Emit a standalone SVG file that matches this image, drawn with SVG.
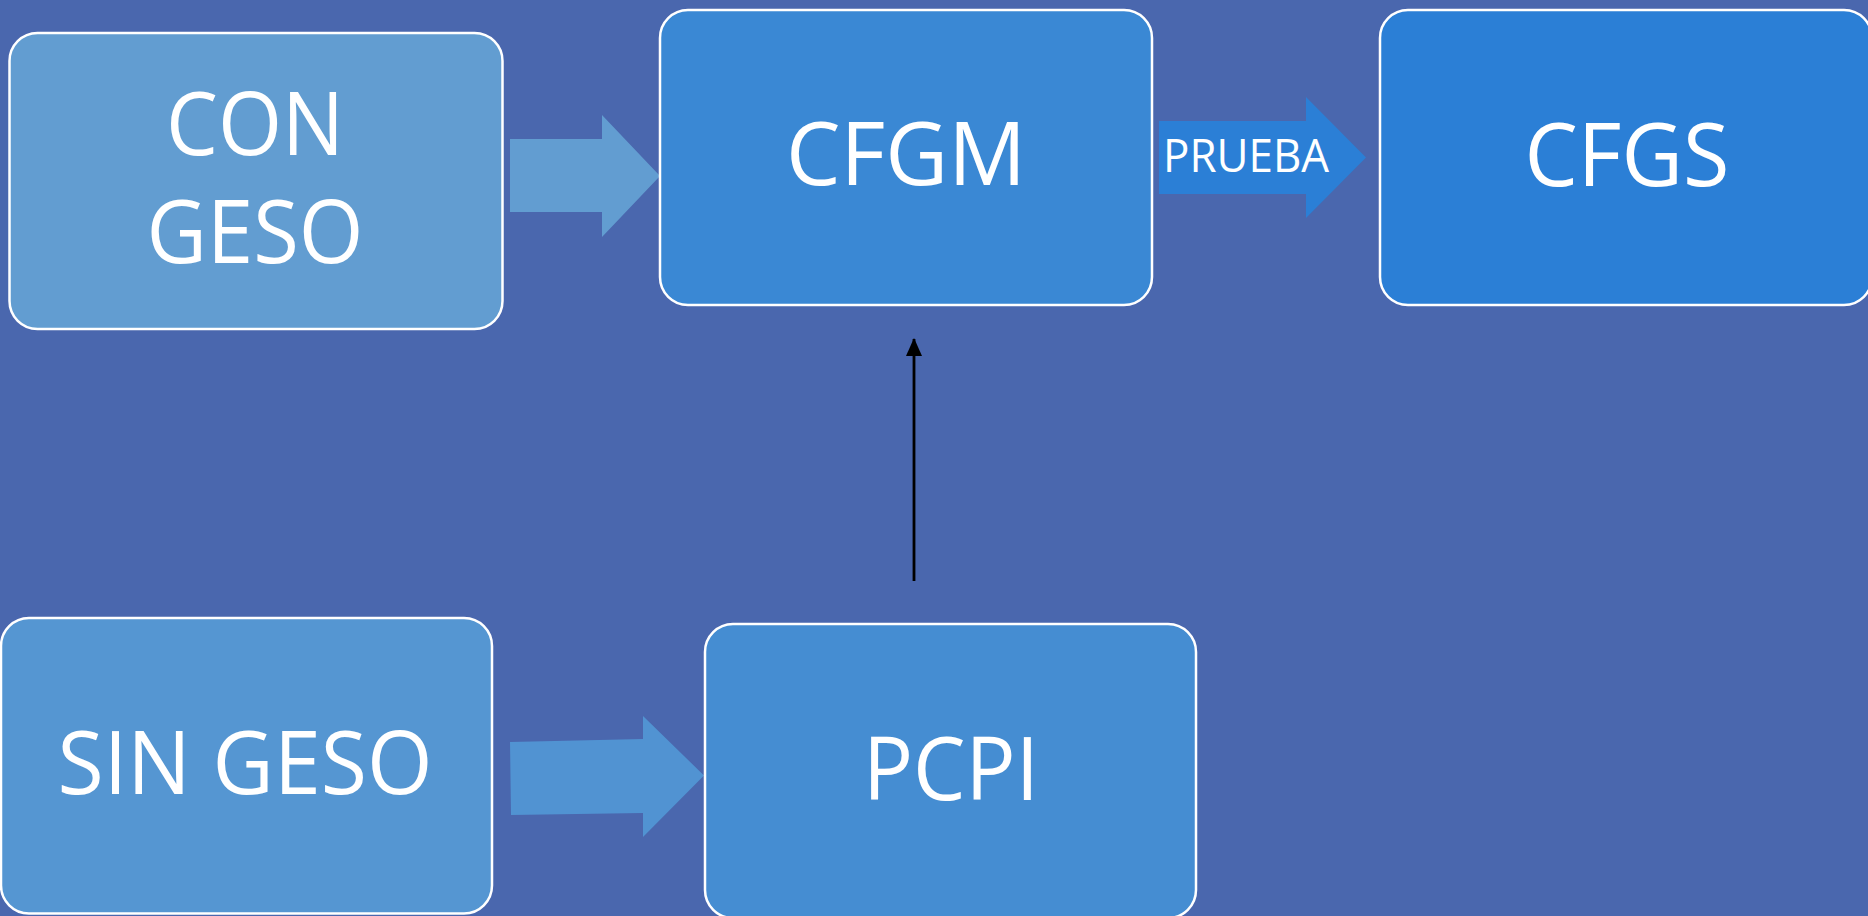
<svg xmlns="http://www.w3.org/2000/svg" width="1868" height="916" viewBox="0 0 1868 916">
<defs>
<style>
.box{stroke:#ffffff;stroke-width:2.5}
.lbl{font-family:"Open Sans","Noto Sans","Liberation Sans",sans-serif;fill:#ffffff;font-size:87px;text-anchor:middle}
.small{font-size:45px}
</style>
<marker id="ah" markerUnits="userSpaceOnUse" markerWidth="18" markerHeight="18" viewBox="0 0 18 18" refX="17" refY="9" orient="auto">
<path d="M0,1 L18,9 L0,17 Z" fill="#000000"/>
</marker>
</defs>
<rect x="0" y="0" width="1868" height="916" fill="#4A67AE"/>
<g id="connectors">
<polygon id="arrow-con-cfgm" points="510,139 602,139 602,115 660,176 602,237 602,212 510,212" fill="#629DD1"/>
<polygon id="arrow-prueba" points="1159,121 1306,121 1306,97 1366,157.5 1306,218 1306,194 1159,194" fill="#2B7FD6"/>
<polygon id="arrow-sin-pcpi" points="510,742 643,739 643,716 704,775.5 643,837 643,813 511,815" fill="#5193D2"/>
<line id="arrow-pcpi-cfgm" x1="914" y1="581" x2="914" y2="339" stroke="#000000" stroke-width="2.8" marker-end="url(#ah)"/>
<text class="lbl small" x="1246" y="172" textLength="166" lengthAdjust="spacingAndGlyphs">PRUEBA</text>
</g>
<g id="node-con-geso">
<rect class="box" x="9.5" y="33" width="493" height="296" rx="28" fill="#629DD1"/>
<text class="lbl" x="255" y="155" textLength="178" lengthAdjust="spacingAndGlyphs">CON</text>
<text class="lbl" x="255" y="263" textLength="217" lengthAdjust="spacingAndGlyphs">GESO</text>
</g>
<g id="node-cfgm">
<rect class="box" x="660" y="10" width="492" height="295" rx="28" fill="#3A88D4"/>
<text class="lbl" x="906" y="185" textLength="240" lengthAdjust="spacingAndGlyphs">CFGM</text>
</g>
<g id="node-cfgs">
<rect class="box" x="1380" y="10" width="492" height="295" rx="28" fill="#2B7FD6"/>
<text class="lbl" x="1627" y="186" textLength="205" lengthAdjust="spacingAndGlyphs">CFGS</text>
</g>
<g id="node-sin-geso">
<rect class="box" x="1" y="618" width="491" height="295.5" rx="28" fill="#5596D2"/>
<text class="lbl" x="245" y="794" textLength="375" lengthAdjust="spacingAndGlyphs">SIN GESO</text>
</g>
<g id="node-pcpi">
<rect class="box" x="705" y="624" width="491" height="294" rx="28" fill="#458DD2"/>
<text class="lbl" x="951" y="800" textLength="176" lengthAdjust="spacingAndGlyphs">PCPI</text>
</g>
</svg>
